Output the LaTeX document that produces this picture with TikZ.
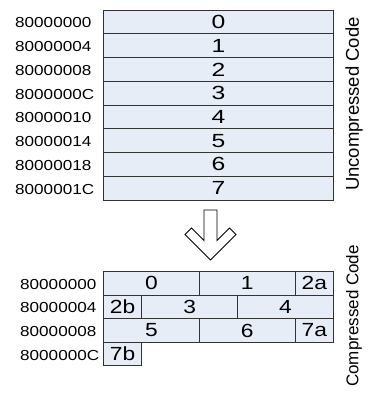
\documentclass[tikz,border=0pt]{standalone}
\usepackage{fontspec}
\setmainfont{Liberation Sans}
\usetikzlibrary{positioning}

\definecolor{cellfill}{HTML}{E6EDF7}
\definecolor{cellline}{HTML}{333333}

% wide text as in the drawing
\newcommand{\wide}[2]{\scalebox{#1}[1]{#2}}

\begin{document}
\begin{tikzpicture}[
    x=1pt, y=-1pt,
    cell/.style={draw=cellline, fill=cellfill, line width=0.9pt,
                 inner sep=0pt, minimum height=23.7pt,
                 font=\fontsize{19}{19}\selectfont},
    addr/.style={anchor=west, inner sep=0pt,
                 font=\fontsize{14.5}{14.5}\selectfont},
    side/.style={rotate=90, inner sep=0pt}
  ]
  \useasboundingbox (0,0) rectangle (368,394);

  % Uncompressed code: one word per row
  \foreach \a [count=\i from 0] in {80000000,80000004,80000008,8000000C,
                                    80000010,80000014,80000018,8000001C} {
    \node[addr] (ua\i) at (15, {10+23.75*(\i+0.5)+1}) {\wide{1.18}{\a}};
    \node[cell, minimum width=230.5pt, minimum height=23.75pt] (u\i)
      at (218.5, {10+23.75*(\i+0.5)}) {\wide{1.3}{\i}};
  }
  \node[side, font=\fontsize{18.5}{18.5}\selectfont] (ulbl) at (354, 104)
    {Uncompressed Code};

  % Hollow arrow between the two layouts
  \draw[line width=0.9pt, fill=white]
    (204,210) -- (217,210) -- (217,240.5) -- (229.5,228) -- (236,234.5)
    -- (210.5,260) -- (185,234.5) -- (191.5,228) -- (204,240.5) -- cycle;

  % Compressed code: label/row/first unit/last unit (12 units per word)
  \foreach \a [count=\i from 0] in {80000000,80000004,80000008,8000000C} {
    \node[addr] (ca\i) at (20, {271.5+23.6*(\i+0.5)+1}) {\wide{1.18}{\a}};
  }
  \foreach \t/\r/\p/\q in {0/0/0/5, 1/0/5/10, 2a/0/10/12,
                           2b/1/0/2, 3/1/2/7, 4/1/7/12,
                           5/2/0/5, 6/2/5/10, 7a/2/10/12,
                           7b/3/0/2} {
    \node[cell, minimum width={(\q-\p)*19.1667pt}, minimum height=23.6pt]
      (c\t) at ({103.5+(\p+\q)/2*19.1667}, {271.5+23.6*(\r+0.5)})
      {\wide{1.2}{\t}};
  }
  \node[side, font=\fontsize{17}{17}\selectfont] (clbl) at (354, 316)
    {Compressed Code};
\end{tikzpicture}
\end{document}
